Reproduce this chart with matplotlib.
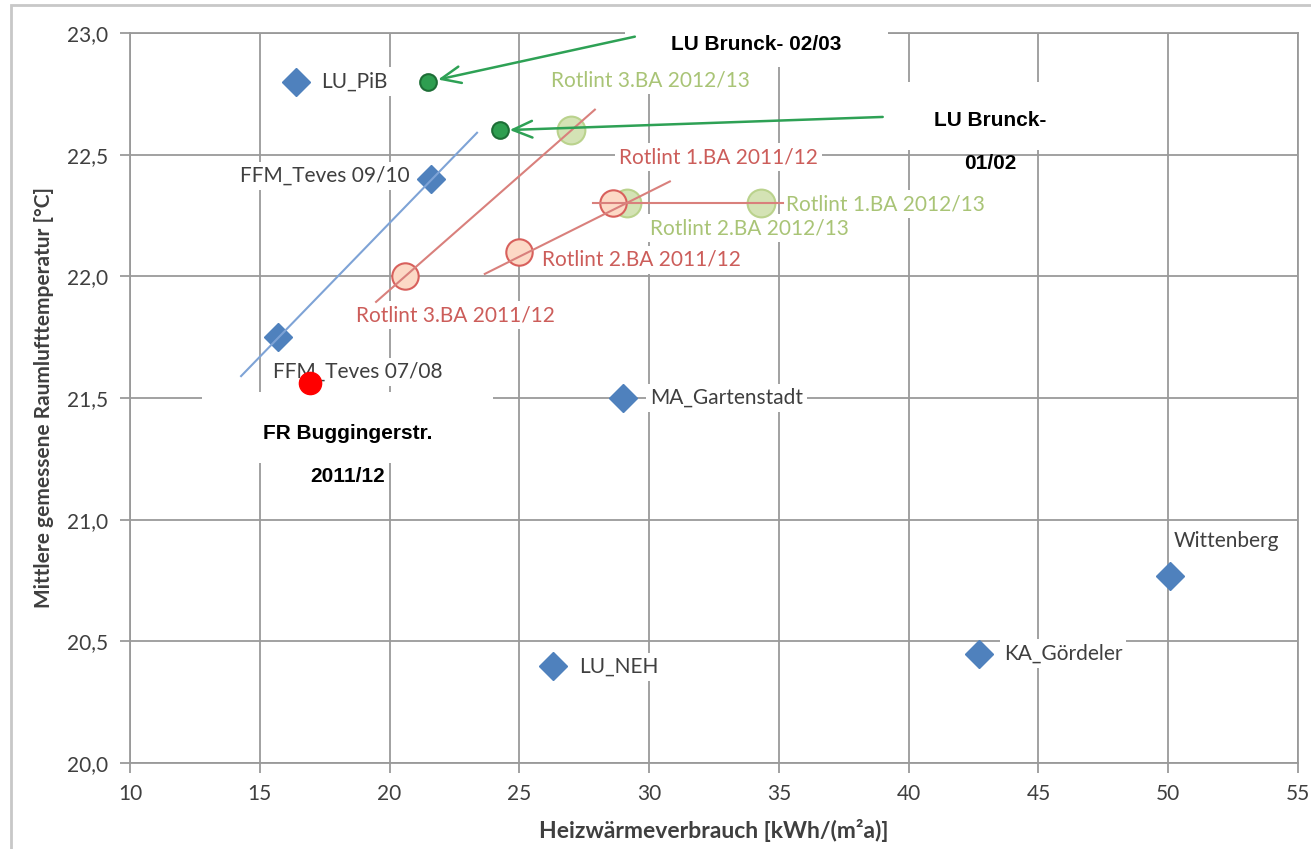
import matplotlib
matplotlib.use("Agg")
import matplotlib.pyplot as plt
from matplotlib.patches import Rectangle, FancyArrowPatch

# ---------------- data ----------------
xticks = [10, 15, 20, 25, 30, 35, 40, 45, 50, 55]
yticks = [20.0, 20.5, 21.0, 21.5, 22.0, 22.5, 23.0]
ytick_labels = ["20,0", "20,5", "21,0", "21,5", "22,0", "22,5", "23,0"]

blue_names = ["LU_PiB", "FFM_Teves 09/10", "FFM_Teves 07/08", "MA_Gartenstadt",
              "LU_NEH", "KA_Gördeler", "Wittenberg"]
blue_x = [16.4, 21.6, 15.7, 29.0, 26.3, 42.7, 50.05]
blue_y = [22.8, 22.4, 21.75, 21.5, 20.4, 20.45, 20.77]

red_names = ["Rotlint 3.BA 2011/12", "Rotlint 2.BA 2011/12", "Rotlint 1.BA 2011/12"]
red_x = [20.6, 25.0, 28.6]
red_y = [22.0, 22.1, 22.3]

green_names = ["Rotlint 3.BA 2012/13", "Rotlint 2.BA 2012/13", "Rotlint 1.BA 2012/13"]
green_x = [27.0, 29.15, 34.3]
green_y = [22.6, 22.3, 22.3]

brunck_names = ["LU Brunck- 02/03", "LU Brunck-\n\n01/02"]
brunck_x = [21.5, 24.25]
brunck_y = [22.8, 22.6]

fr_name = "FR Buggingerstr.\n\n2011/12"
fr_x = [16.95]
fr_y = [21.56]

# trend lines (start/end)
blue_trend_x = [14.28, 23.37]
blue_trend_y = [21.59, 22.59]
red_trend3_x = [19.48, 27.91]
red_trend3_y = [21.895, 22.685]
red_trend2_x = [23.67, 30.8]
red_trend2_y = [22.01, 22.39]
red_trend1_x = [27.83, 35.15]
red_trend1_y = [22.3, 22.3]

# arrow tails (heads point at the LU Brunck points)
arrow_start_x = [29.45, 39.0]
arrow_start_y = [22.985, 22.655]

# ---------------- style ----------------
W, H = 1311, 849
fig = plt.figure(figsize=(W / 100, H / 100), dpi=100)
L, R, T, B = 130, 1298, 33, 763
ax = fig.add_axes([L / W, 1 - B / H, (R - L) / W, (B - T) / H])

FONT = "Lato"
TXT = "#3f3f3f"
GRID = "#9a9a9a"
BLUE = "#4f81bd"
RED_TXT = "#cc5d5a"
GREEN_TXT = "#a9c476"

ax.set_xlim(10, 55)
ax.set_ylim(20, 23)
ax.set_xticks(xticks)
ax.set_xticklabels([str(v) for v in xticks], fontfamily=FONT, fontsize=15, color=TXT)
ax.set_yticks(yticks)
ax.set_yticklabels(ytick_labels, fontfamily=FONT, fontsize=15, color=TXT)
ax.tick_params(axis="both", direction="out", length=7, width=1.3, color=GRID)
ax.tick_params(axis="x", pad=8)
ax.tick_params(axis="y", pad=9)
ax.grid(True, color=GRID, linewidth=1.3, zorder=0)
ax.set_axisbelow(True)
for s in ax.spines.values():
    s.set_color(GRID)
    s.set_linewidth(1.3)
    s.set_zorder(0.5)

ax.set_xlabel("Heizwärmeverbrauch [kWh/(m²a)]", fontfamily=FONT, fontweight="bold",
              fontsize=16.5, color=TXT)
ax.xaxis.set_label_coords(0.5, -(830 - B) / (B - T))
ax.xaxis.label.set_va("center")
ax.set_ylabel("Mittlere gemessene Raumlufttemperatur [°C]", fontfamily=FONT,
              fontweight="bold", fontsize=15, color=TXT)
ax.yaxis.set_label_coords(-(L - 44) / (R - L), 0.5)
ax.yaxis.label.set_va("center")

# outer chart frame
fig.patches.append(Rectangle((11 / W, -0.05), 1.1, 1 - 5 / H + 0.05,
                             transform=fig.transFigure, fill=False,
                             edgecolor="#c8c8c8", linewidth=2, zorder=0))

# ---------------- markers ----------------
ax.plot(blue_x, blue_y, linestyle="none", marker="D", markersize=14,
        color=BLUE, markeredgecolor=BLUE, zorder=4)
ax.plot(red_x, red_y, linestyle="none", marker="o", markersize=19,
        markerfacecolor="#fcd9c6", markeredgecolor="#d8605c",
        markeredgewidth=1.5, zorder=4)
ax.plot(green_x, green_y, linestyle="none", marker="o", markersize=20,
        markerfacecolor="#d2e2b1", markeredgecolor="#b8d189",
        markeredgewidth=1.5, alpha=0.95, zorder=3.5)

# trend lines (on top of markers)
ax.plot(blue_trend_x, blue_trend_y, color="#7ea3d6", linewidth=1.5, zorder=5)
for tx, ty in [(red_trend3_x, red_trend3_y), (red_trend2_x, red_trend2_y),
               (red_trend1_x, red_trend1_y)]:
    ax.plot(tx, ty, color="#d9807c", linewidth=1.5, zorder=5)

# ---------------- data labels ----------------
def label(txt, x, y, dx, dy, ha, color):
    ax.annotate(txt, (x, y), xytext=(dx, dy), textcoords="offset pixels",
                ha=ha, va="center", fontfamily=FONT, fontsize=15, color=color,
                zorder=3,
                bbox=dict(boxstyle="square,pad=0.2", facecolor="white",
                          edgecolor="none"))

blue_offsets = [(25, 0, "left"), (-21, 3, "right"), (-5, -35, "left"),
                (27, 0, "left"), (26, -1, "left"), (25, 0, "left"),
                (4, 35, "left")]
for n, x, y, (dx, dy, ha) in zip(blue_names, blue_x, blue_y, blue_offsets):
    label(n, x, y, dx, dy, ha, TXT)

red_offsets = [(-49, -39, "left"), (23, -8, "left"), (6, 46, "left")]
for n, x, y, (dx, dy, ha) in zip(red_names, red_x, red_y, red_offsets):
    label(n, x, y, dx, dy, ha, RED_TXT)

green_offsets = [(-20, 50, "left"), (23, -25, "left"), (25, -1, "left")]
for n, x, y, (dx, dy, ha) in zip(green_names, green_x, green_y, green_offsets):
    label(n, x, y, dx, dy, ha, GREEN_TXT)

# ---------------- added points ----------------
ax.plot(brunck_x, brunck_y, linestyle="none", marker="o", markersize=12,
        markerfacecolor="#2e9e50", markeredgecolor="#1d6e36",
        markeredgewidth=1.5, zorder=6)
ax.plot(fr_x, fr_y, linestyle="none", marker="o", markersize=16,
        color="#ff0000", zorder=6)

# white boxes for the added annotations (pixel coords -> axes fraction)
def px_box(x0, y0, x1, y1):
    return Rectangle(((x0 - L) / (R - L), (B - y1) / (B - T)),
                     (x1 - x0) / (R - L), (y1 - y0) / (B - T),
                     transform=ax.transAxes, facecolor="white",
                     edgecolor="none", clip_on=False, zorder=2.6)

ax.add_patch(px_box(625, 9, 888, 67))
ax.add_patch(px_box(883, 82, 1048, 150))
ax.add_patch(px_box(202, 392, 493, 463))

def px_text(txt, px, py):
    ax.text((px - L) / (R - L), (B - py) / (B - T), txt, transform=ax.transAxes,
            ha="center", va="center", fontfamily="Liberation Sans",
            fontweight="bold", fontsize=15, color="black", zorder=7,
            linespacing=1.15)

px_text(brunck_names[0], 756, 45)
px_text(brunck_names[1], 990, 142)
px_text(fr_name, 348, 455)

# arrows
for sx, sy, ex, ey in zip(arrow_start_x, arrow_start_y, brunck_x, brunck_y):
    a = FancyArrowPatch((sx, sy), (ex, ey), arrowstyle="->,head_length=14,head_width=6",
                        mutation_scale=1, color="#2ea155", linewidth=1.8,
                        shrinkA=0, shrinkB=7, zorder=6, clip_on=False)
    ax.add_patch(a)

fig.savefig("out.png", dpi=100)
